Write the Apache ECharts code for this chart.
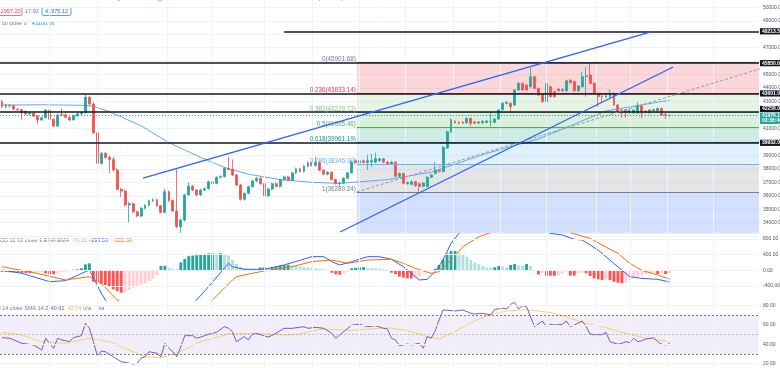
<!DOCTYPE html>
<html><head><meta charset="utf-8">
<script src="https://cdn.jsdelivr.net/npm/echarts@6/dist/echarts.min.js"></script>
<style>html,body{margin:0;padding:0;background:#fff}#c{width:780px;height:368px}</style>
</head><body><div id="c"></div>
<script>
// ---------------- data ----------------
const categories = Array.from({length: 191}, (_, i) => 'D' + i);
// [open, close, low, high]
const candles = [
[42990,42620,42500,43110],[42620,42720,42480,42820],[42720,42680,42560,42800],[42680,42440,42380,42760],[42440,42400,42300,42520],[42400,42150,41600,42450],[42270,42080,42000,42350],[42080,42150,41980,42230],[42150,41900,41850,42200],[41900,41630,41340,42000],
[41630,41800,41580,41880],[41800,42370,41750,42450],[42370,41680,41620,42420],[41680,41180,41100,41750],[41180,42000,41120,42100],[42060,42020,41900,42500],[42020,41830,41760,42100],[41830,41630,41560,41900],[41630,41950,41600,42020],[41950,42100,41880,42180],
[42100,42180,42000,42260],[42180,43310,42100,43480],[43310,42810,42700,43400],[42810,40680,40600,42950],[40680,38410,38210,41130],[38410,39150,38300,39260],[39150,38850,38780,39260],[38850,38700,37670,39000],[38700,37910,37820,38880],[37910,36480,36400,38050],
[36480,36350,35900,36600],[36350,35310,35200,36450],[35310,35400,34030,35550],[35400,34810,34700,35500],[34810,34500,34400,34900],[34500,35070,34420,35150],[35070,35300,34980,35380],[35300,35630,35220,35720],[35630,35700,35550,35800],[35700,35250,35180,35780],
[35250,34770,34700,35320],[34770,36300,34700,36520],[36300,35650,35550,36400],[35650,34870,34800,35720],[34870,33700,33600,37960],[33700,34200,33250,34300],[34200,36060,34100,36150],[36060,36720,35980,37000],[36720,36430,36350,36800],[36430,36060,35980,36500],
[36060,36430,35980,36520],[36430,36530,36350,36620],[36530,37040,36450,37120],[37040,36920,36850,37150],[36920,37370,36850,37450],[37370,37420,37300,37520],[37420,38040,37350,38120],[38040,37960,37880,38900],[37960,37540,37450,38700],[37540,36800,36720,37620],
[36800,35740,35650,36880],[35740,36180,35650,36260],[36180,36670,36100,36750],[36670,37100,36600,37200],[37100,37300,37000,37400],[37300,36900,36820,37380],[36900,36000,35900,36980],[36000,36500,35920,36600],[36500,36900,36420,36980],[36900,36700,36620,37000],
[36700,37200,36620,37280],[37200,37400,37120,37500],[37400,37150,37080,37480],[37150,37700,37080,37780],[37700,38000,37620,38100],[38000,37800,37720,38080],[37800,38200,37720,38280],[38200,38450,38120,38550],[38450,38250,38180,38530],[38250,38500,38180,38900],
[38500,37900,37820,38580],[37900,37600,37520,37980],[37600,37750,37520,37830],[37750,37200,37120,37830],[37200,36900,36820,37280],[36900,36950,36700,37050],[36950,37300,36880,37380],[37300,37710,37220,37790],[37710,38530,37640,38620],[38600,38450,38380,38720],
[38450,38600,38380,38680],[38600,38480,38400,38680],[38480,38600,37920,39030],[38500,38600,38150,39100],[38500,38750,38420,39200],[38600,38750,38550,38830],[38750,38500,38430,38820],[38500,38350,38280,38580],[38350,38500,38280,38580],[38500,37450,37380,38580],
[37450,37650,37380,37730],[37650,36920,36850,37720],[36900,36980,36820,37060],[36850,37050,36780,37130],[37050,36750,36680,37120],[36900,36700,36250,36980],[36700,36950,36620,37030],[36700,37370,36620,37450],[37370,37550,37300,37630],[37650,37900,37580,38500],
[37900,37800,37720,37980],[37800,39600,37720,39700],[39550,40750,39470,40850],[40750,41650,40680,41750],[41550,41430,41350,41620],[41450,41380,41300,41520],[41480,41400,41320,41550],[41430,41750,41360,41820],[41750,41380,41150,41820],[41480,41400,41320,41550],
[41400,41480,41330,41550],[41420,41530,41350,41600],[41450,41550,41380,41620],[41500,41520,41150,42250],[41450,41700,41380,41780],[41700,42370,41630,42450],[42400,42870,42330,42950],[42850,42950,42780,43020],[42870,42620,42250,42950],[42740,43860,42680,43940],
[43860,44350,43800,44450],[44350,43860,43800,44420],[44230,43860,43800,44300],[44100,44840,44030,45470],[44840,43980,43900,44920],[43980,43480,43400,44050],[43480,42990,42920,43550],[42990,44350,42920,44430],[44100,43360,43300,44180],[43730,43360,43300,43800],
[43920,43800,43730,43990],[43800,43900,43730,43970],[43800,44540,43730,44620],[44590,44400,44330,44660],[44480,43800,43720,44550],[43800,44160,43730,44230],[44100,44840,44030,45220],[44850,44900,43350,45550],[44970,44350,44280,45901.68],[44350,43610,43540,44420],
[43610,43360,42600,43680],[43400,43350,42900,43470],[43350,43420,43280,43500],[43360,43610,43290,43900],[43610,42740,42670,43680],[42740,42300,42230,42810],[42370,42170,41800,42440],[42370,42150,41780,42440],[42150,42370,42080,42440],[42150,42370,42080,42440],
[42150,42670,42080,42960],[42670,42150,41780,42740],[42200,42280,42130,42350],[42370,42150,42080,42440],[42320,42400,42250,42470],[42320,42480,42250,42550],[42480,42000,41930,42550],[42050,41980,41700,42120],[41950,41976.12,41880,42040]
];
// SMA 50 polyline [index, value]
const sma50 = [[0,42740],[10,42760],[20,42720],[23,42650],[27,42250],[35,41200],[42,39950],[50,38850],[56,38100],[62,37600],[70,37200],[78,37000],[85,36920],[97,37200],[108,37750],[122,39150],[135,40220],[152,42300],[168,43100.66]];
// MACD histogram per candle
const macdHist = [
-40,-45,-50,-55,-60,-65,-70,-72,-60,-50,
-40,-80,-95,-100,-80,-55,-35,-25,15,25,
50,152,178,-290,-315,-350,-375,-420,-485,-530,
-570,-560,-500,-450,-410,-370,-320,-270,-200,-120,
110,118,60,40,30,203,290,360,375,385,
392,415,430,432,420,435,410,375,270,160,
90,60,45,35,30,70,80,60,80,100,
120,130,140,120,110,100,85,70,60,50,
40,30,15,-60,-100,-110,-80,-40,50,65,
75,80,60,55,50,45,30,20,-60,-94,
-162,-188,-205,-210,-188,-162,-35,-20,-10,33,
135,279,432,492,495,449,415,347,262,194,
152,110,76,67,76,110,93,76,135,160,
127,120,160,110,5,-103,-60,-137,-137,-140,
-120,-77,-30,-137,-137,-77,-60,-77,-145,-205,
-230,-247,-230,-247,-290,-315,-332,-315,-247,-205,
-162,-137,-94,-77,-60,-94,-60,-94,-76.15
];
const macdLine = [[0,8],[5,-77],[12,-290],[16,-265],[22,8],[25,-585],[26,-755],[28,-1000],[32,-1300],[38,-1450],[44,-1200],[47,-950],[49,-755],[53,-300],[57,178],[58,93],[61,25],[66,25],[71,135],[78,347],[81,347],[83,220],[85,135],[88,220],[92,347],[95,347],[98,280],[101,92],[105,-247],[107,-230],[109,-35],[111,262],[113,688],[115,942],[118,1250],[125,1450],[132,1300],[138,942],[141,900],[144,790],[146,772],[150,517],[152,347],[156,0],[158,-163],[161,-205],[165,-230],[168,-298.53]];
const signalLine = [[0,93],[8,-60],[16,-247],[22,-162],[25,-332],[29,-755],[33,-1000],[38,-1200],[44,-1250],[50,-1050],[53,-755],[56,-450],[58,-247],[59,-162],[65,-35],[73,93],[78,220],[83,262],[87,178],[92,262],[98,280],[101,178],[104,50],[108,-77],[110,-35],[113,262],[116,600],[120,856],[123,960],[130,1150],[138,1100],[142,985],[145,900],[148,815],[151,645],[155,432],[158,178],[161,0],[165,-120],[168,-222.38]];
const rsiLine = [[0,46.9],[2,46.3],[5,41.1],[8,39.3],[10,34.2],[11,46.3],[13,35.9],[14,46.3],[15,44.6],[17,42.9],[18,46.9],[20,49],[21,61.8],[22,56.6],[23,42.8],[24,28],[25,33.1],[26,32.4],[28,27.2],[30,22.1],[33,19.7],[34,20.4],[35,25.6],[36,27.2],[37,32.4],[39,30.8],[40,27.2],[41,41.1],[42,35.9],[43,32.4],[44,27.2],[45,37.6],[46,49],[48,49],[49,46.3],[51,49],[52,50.4],[54,52.5],[56,58.3],[57,56.6],[58,53.1],[59,42.8],[61,48],[62,44.6],[63,50.4],[64,51.4],[67,47.6],[68,49.3],[71,56.6],[73,56.6],[76,58.3],[77,56.6],[79,57.6],[81,56.6],[83,51.4],[84,46.3],[85,49.7],[88,60],[90,60.7],[92,58.3],[94,59.3],[96,56.6],[97,56],[98,46.3],[99,44.6],[100,38.6],[102,40.4],[103,39.3],[105,41.1],[106,36],[107,48],[108,46.3],[109,53.8],[110,65.2],[111,75.6],[113,75],[114,74.5],[116,75.6],[118,72.1],[119,71.4],[121,72.1],[123,70.4],[124,76.2],[126,77.3],[127,76.6],[128,81.5],[129,83.5],[130,76.6],[131,80],[132,79],[133,68.6],[134,58.3],[136,64.2],[137,58.3],[138,60.7],[139,60],[141,60.7],[142,64.2],[143,58.3],[144,60],[146,64.2],[147,58.3],[148,50.7],[149,50],[151,50],[152,52.5],[153,42.8],[155,40.1],[156,41.1],[157,42.8],[158,41.8],[159,46.3],[160,42.8],[161,43.8],[162,45.5],[164,46.9],[165,42.8],[166,40.1],[167,39.4],[168,40.92]];
const rsiMa = [[0,52.5],[5,49.7],[10,42.8],[16,41.1],[22,46.3],[27,42.8],[31,35.9],[36,27.2],[40,26.2],[44,30.8],[50,42.8],[57,50.7],[63,51.4],[71,49.7],[75,50.7],[80,55.6],[88,54.5],[97,57.2],[102,54.5],[106,49],[110,45.6],[114,53.5],[119,64.2],[123,71.1],[127,74.5],[132,75.9],[138,73],[142,68.6],[146,62.8],[152,57.2],[158,50.4],[162,46.3],[168,42.74]];

const hLinePrices = [48213.50, 45850.00, 43601.00, 42258.00, 39932.00];
const hLineStartIdx = [71, -0.5, -0.5, -0.5, -0.5];
const lastPrice = 41976.12;
const countdown = '03:36:46';
const fibRatios = ['0', '0.236', '0.382', '0.5', '0.618', '0.786', '1'];
const fibPrices = [45901.68, 43633.14, 42229.73, 41095.46, 39961.19, 38346.30, 36289.24];
const fibStartIdx = 89.3;
const upperChannel = [[35.5, 37318], [163.1, 48165]];
const lowerChannel = [[85.1, 33306], [168.9, 45565]];
const fibTrend = [[89.3, 36289.24], [196, 45901.68]];
const vGridIdx = [12, 24, 41.5, 53, 66, 78, 90, 101.5, 113.5, 125.5, 137, 149.5, 158, 167.5, 179];
const priceHiddenTicks = [33000, 51000, 48000, 46000, 42000, 40000];
const macdTicks = [-400, 0, 400, 800];
const rsiTicks = [20, 40, 60, 80];
const rsiBands = [30, 50, 70];

// ---------------- styles ----------------
const FONT = 'Liberation Sans';
const X_END = 190.5, X_START = -0.5;
const PANE_LOW = 33198;
const fibFill = ['rgba(242,54,69,0.2)','rgba(129,199,132,0.2)','rgba(76,175,80,0.2)','rgba(8,153,129,0.2)','rgba(100,181,246,0.2)','rgba(120,123,134,0.2)','rgba(41,98,255,0.2)'];
const fibLine = ['#787b86','#f23645','#81c784','#4caf50','#089981','#64b5f6','#787b86'];
const UP = '#26a69a', DOWN = '#ef5350';

function histColor(i) {
  const v = macdHist[i], p = i > 0 ? macdHist[i - 1] : v;
  if (v >= 0) return v >= p ? '#26a69a' : '#b2dfdb';
  return v <= p ? '#ff5252' : '#ffcdd2';
}

const chart = echarts.init(document.getElementById('c'), null, {renderer: 'canvas'});

const gridBase = {left: 0, right: 21, containLabel: false, outerBoundsMode: 'none'};
const catAxis = (g) => ({type: 'category', gridIndex: g, data: categories, show: false, boundaryGap: true});
const valAxis = (g) => ({type: 'value', gridIndex: g, min: X_START, max: X_END, show: false});
const axLabel = {fontSize: 5, color: '#50535e', fontFamily: FONT, margin: 4};

const gridLineStyle = {color: '#f0f3fa', width: 1, type: 'solid'};
const vgridSeries = (xi, yi, extra) => ({
  type: 'line', xAxisIndex: xi, yAxisIndex: yi, data: [], z: 0, silent: true,
  markLine: {symbol: ['none','none'], silent: true, animation: false, label: {show: false},
    lineStyle: gridLineStyle,
    data: vGridIdx.map(v => ({xAxis: v})).concat((extra || []).map(v => ({yAxis: v})))}
});

const fibBands = fibPrices.map((p, k) => {
  const lo = k < fibPrices.length - 1 ? fibPrices[k + 1] : PANE_LOW;
  return [{coord: [fibStartIdx, p], itemStyle: {color: fibFill[k]}}, {coord: [X_END, lo]}];
});

const fibLevelLines = fibPrices.map((p, k) => [
  {coord: [fibStartIdx, p], lineStyle: {color: fibLine[k], width: 1, type: 'solid'},
   label: {show: true, position: 'start', distance: 1, offset: [0, -3],
     formatter: fibRatios[k] + '(' + p.toFixed(2) + ')', color: fibLine[k], fontSize: 6.3, fontFamily: FONT}},
  {coord: [X_END, p]}
]);

const boxLabel = (txt, bg, dy) => ({show: true, position: 'end', distance: 1, offset: [0, dy || 0],
  formatter: txt, backgroundColor: bg, color: '#fff', fontSize: 5, fontWeight: 'bold', fontFamily: FONT,
  padding: [0.6, 2, 0.4, 2], lineHeight: 5.2});

const hLineData = hLinePrices.map((p, k) => [
  {coord: [hLineStartIdx[k], p], lineStyle: {color: '#131722', width: 1.5, type: 'solid'},
   label: boxLabel(p.toFixed(2), '#131722', k === 3 ? -2.5 : 0)},
  {coord: [X_END, p]}
]);
hLineData.push([
  {coord: [X_START, lastPrice], lineStyle: {color: '#26a69a', width: 1, type: [1, 2]},
   label: boxLabel(lastPrice.toFixed(2) + '\n' + countdown, '#26a69a', 3)},
  {coord: [X_END, lastPrice]}
]);

const option = {
  animation: false,
  backgroundColor: '#ffffff',
  grid: [
    Object.assign({top: -6.16, height: 242.32}, gridBase),
    Object.assign({top: 233.5, height: 67}, gridBase),
    Object.assign({top: 300.5, height: 67.5}, gridBase)
  ],
  xAxis: [catAxis(0), valAxis(0), catAxis(1), valAxis(1), catAxis(2), valAxis(2)],
  yAxis: [
    {type: 'value', gridIndex: 0, position: 'right', min: 33000, max: 51000, interval: 1000,
     axisLine: {show: false}, axisTick: {show: false},
     axisLabel: Object.assign({formatter: v => priceHiddenTicks.indexOf(v) >= 0 ? '' : v.toFixed(2)}, axLabel),
     splitLine: {show: true, lineStyle: gridLineStyle}},
    {type: 'value', gridIndex: 1, position: 'right', min: -769.4, max: 937.6,
     axisLine: {show: false}, axisTick: {show: false},
     axisLabel: Object.assign({customValues: macdTicks, formatter: v => v.toFixed(2)}, axLabel),
     splitLine: {show: false}},
    {type: 'value', gridIndex: 2, position: 'right', min: 15.55, max: 85.38,
     axisLine: {show: false}, axisTick: {show: false},
     axisLabel: Object.assign({customValues: rsiTicks, formatter: v => v.toFixed(2)}, axLabel),
     splitLine: {show: false}}
  ],
  series: [
    vgridSeries(1, 0),
    vgridSeries(3, 1, macdTicks),
    vgridSeries(5, 2, rsiTicks),
    {type: 'line', xAxisIndex: 1, yAxisIndex: 0, data: [], z: 1, silent: true,
     markArea: {silent: true, data: fibBands}},
    {type: 'line', xAxisIndex: 1, yAxisIndex: 0, data: sma50, symbol: 'none', z: 3, silent: true,
     lineStyle: {color: '#5fa8f5', width: 1}},
    {type: 'candlestick', xAxisIndex: 0, yAxisIndex: 0, data: candles, barWidth: 2.4, z: 4,
     itemStyle: {color: UP, color0: DOWN, borderColor: UP, borderColor0: DOWN, borderWidth: 0.8}},
    {type: 'line', xAxisIndex: 1, yAxisIndex: 0, data: [], z: 5, silent: true,
     markLine: {symbol: ['none','none'], silent: true, data: fibLevelLines}},
    {type: 'line', xAxisIndex: 1, yAxisIndex: 0, data: fibTrend, symbol: 'none', z: 5, silent: true,
     lineStyle: {color: '#9598a1', width: 1, type: [3, 2]}},
    {type: 'line', xAxisIndex: 1, yAxisIndex: 0, data: upperChannel, symbol: 'none', z: 6, silent: true,
     lineStyle: {color: '#2962ff', width: 1.3}},
    {type: 'line', xAxisIndex: 1, yAxisIndex: 0, data: lowerChannel, symbol: 'none', z: 6, silent: true,
     lineStyle: {color: '#2962ff', width: 1.3}},
    {type: 'line', xAxisIndex: 1, yAxisIndex: 0, data: [], z: 7, silent: true,
     markLine: {symbol: ['none','none'], silent: true, data: hLineData}},
    {type: 'bar', xAxisIndex: 2, yAxisIndex: 1, barWidth: 2.9, z: 3, silent: true,
     data: macdHist.map((v, i) => ({value: v, itemStyle: {color: histColor(i)}}))},
    {type: 'line', xAxisIndex: 3, yAxisIndex: 1, data: macdLine, symbol: 'none', z: 4, silent: true,
     lineStyle: {color: '#2962ff', width: 1}},
    {type: 'line', xAxisIndex: 3, yAxisIndex: 1, data: signalLine, symbol: 'none', z: 4, silent: true,
     lineStyle: {color: '#ff6d00', width: 1}},
    {type: 'line', xAxisIndex: 5, yAxisIndex: 2, data: [], z: 1, silent: true,
     markArea: {silent: true, itemStyle: {color: 'rgba(126,87,194,0.1)'}, data: [[{yAxis: rsiBands[0]}, {yAxis: rsiBands[2]}]]},
     markLine: {symbol: ['none','none'], silent: true, label: {show: false},
       data: rsiBands.map((v, k) => ({yAxis: v, lineStyle: {color: k === 1 ? 'rgba(120,123,134,0.45)' : '#787b86', width: 1, type: [2, 2]}}))}},
    {type: 'line', xAxisIndex: 5, yAxisIndex: 2, data: rsiMa, symbol: 'none', z: 3, silent: true,
     lineStyle: {color: '#f2d567', width: 1}},
    {type: 'line', xAxisIndex: 5, yAxisIndex: 2, data: rsiLine, symbol: 'none', z: 4, silent: true,
     lineStyle: {color: '#7e57c2', width: 1}}
  ],
  graphic: [
    {type: 'text', x: -12, y: -1.5, style: {text: 'Bitcoin / U.S. Dollar · 1D · BITSTAMP   ·   TradingView', fill: '#787b86', fontSize: 6, fontFamily: FONT, verticalAlign: 'middle'}},
    {type: 'circle', shape: {cx: 160, cy: -1, r: 3}, style: {fill: 'rgba(38,166,154,0.3)'}},
    {type: 'text', x: 168, y: -1.5, style: {text: 'O41957.20  H42177.47  L41832.04  C41975.12  +17.92 (+0.04%)', fill: '#26a69a', fontSize: 6, fontFamily: FONT, verticalAlign: 'middle'}},
    {type: 'rect', shape: {x: -6, y: 7.5, width: 28, height: 8, r: 1.5}, style: {fill: '#fff', stroke: '#f23645', lineWidth: 0.7}},
    {type: 'text', x: 20.5, y: 11.6, style: {text: '41957.20', fill: '#f23645', fontSize: 5.5, fontFamily: FONT, align: 'right', verticalAlign: 'middle'}},
    {type: 'text', x: 25, y: 11.6, style: {text: '17.92', fill: '#787b86', fontSize: 5.5, fontFamily: FONT, verticalAlign: 'middle'}},
    {type: 'rect', shape: {x: 42, y: 7.5, width: 29, height: 8, r: 1.5}, style: {fill: '#fff', stroke: '#2962ff', lineWidth: 0.7}},
    {type: 'text', x: 56.5, y: 11.6, style: {text: '41975.12', fill: '#2962ff', fontSize: 5.5, fontFamily: FONT, align: 'center', verticalAlign: 'middle'}},
    {type: 'text', x: -8.1, y: 23.3, style: {text: 'MA 50 close 0', fill: '#787b86', fontSize: 5.5, fontFamily: FONT, verticalAlign: 'middle'}},
    {type: 'text', x: 31.7, y: 23.3, style: {text: '43100.66', fill: '#2196f3', fontSize: 5.5, fontFamily: FONT, verticalAlign: 'middle'}},
    {type: 'text', x: -8.2, y: 240.7, style: {text: 'MACD 12 26 close 9 EMA EMA', fill: '#787b86', fontSize: 5.5, fontFamily: FONT, verticalAlign: 'middle'}},
    {type: 'text', x: 71.7, y: 240.7, style: {text: '-76.15', fill: '#ef9a9a', fontSize: 5.5, fontFamily: FONT, verticalAlign: 'middle'}},
    {type: 'text', x: 89.3, y: 240.7, style: {text: '-298.53', fill: '#2962ff', fontSize: 5.5, fontFamily: FONT, verticalAlign: 'middle'}},
    {type: 'text', x: 113.3, y: 240.7, style: {text: '-222.38', fill: '#ff6d00', fontSize: 5.5, fontFamily: FONT, verticalAlign: 'middle'}},
    {type: 'text', x: -8.5, y: 308.3, style: {text: 'RSI 14 close SMA 14 2', fill: '#787b86', fontSize: 5.5, fontFamily: FONT, verticalAlign: 'middle'}},
    {type: 'text', x: 50.7, y: 308.3, style: {text: '40.92', fill: '#7e57c2', fontSize: 5.5, fontFamily: FONT, verticalAlign: 'middle'}},
    {type: 'text', x: 67.7, y: 308.3, style: {text: '42.74', fill: '#e6c229', fontSize: 5.5, fontFamily: FONT, verticalAlign: 'middle'}},
    {type: 'text', x: 83.3, y: 308.3, style: {text: 'n/a', fill: '#787b86', fontSize: 5.5, fontFamily: FONT, verticalAlign: 'middle'}},
    {type: 'text', x: 96.7, y: 308.3, style: {text: 'n/a', fill: '#787b86', fontSize: 5.5, fontFamily: FONT, verticalAlign: 'middle'}}
  ]
};
chart.setOption(option);
</script></body></html>
